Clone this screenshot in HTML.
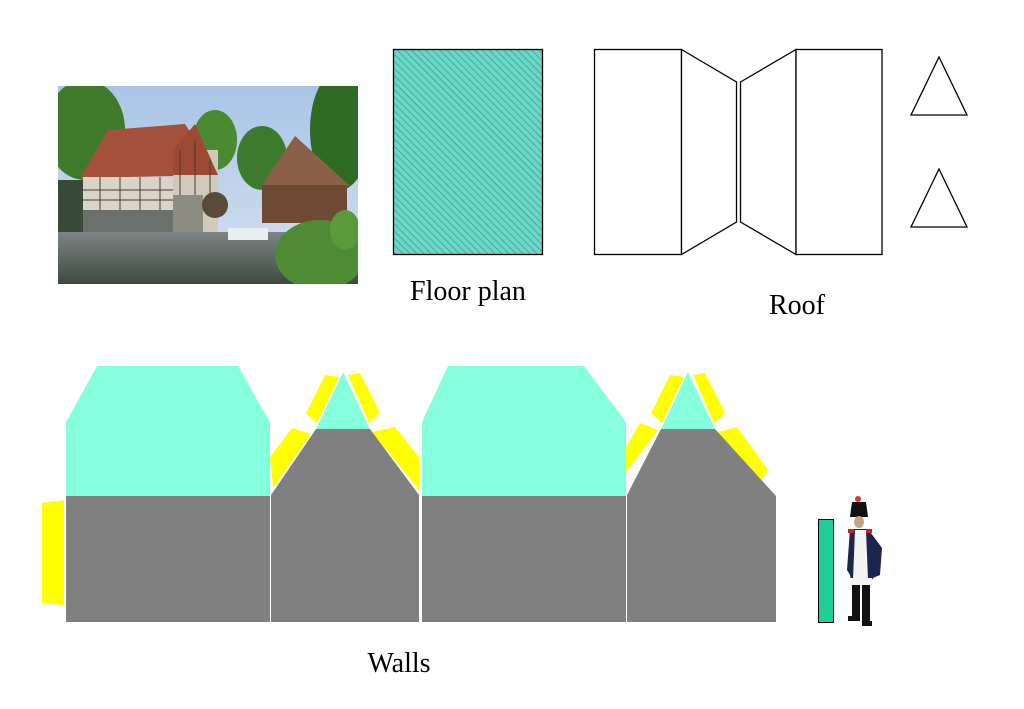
<!DOCTYPE html>
<html><head><style>
html,body{margin:0;padding:0;background:#fff;}
svg{display:block;}
text{font-family:"Liberation Serif",serif;fill:#000;}
</style></head><body>
<svg width="1024" height="709" viewBox="0 0 1024 709" xmlns="http://www.w3.org/2000/svg">
<defs>
<pattern id="hatch" width="5" height="5" patternUnits="userSpaceOnUse" patternTransform="rotate(-45)">
<rect width="5" height="5" fill="#6fd6c6"/>
<line x1="0" y1="0" x2="0" y2="5" stroke="#2aa89a" stroke-width="1.6"/>
</pattern>
<linearGradient id="sky" x1="0" y1="0" x2="0" y2="1"><stop offset="0" stop-color="#a9c4e6"/><stop offset="1" stop-color="#d6e2ee"/></linearGradient>
<linearGradient id="water" x1="0" y1="0" x2="0" y2="1"><stop offset="0" stop-color="#7d8585"/><stop offset="1" stop-color="#3e4a40"/></linearGradient>
<clipPath id="pc"><rect x="58" y="86" width="300" height="198"/></clipPath>
</defs>

<!-- Photo -->
<g clip-path="url(#pc)">
<rect x="58" y="86" width="300" height="198" fill="url(#sky)"/>
<ellipse cx="85" cy="130" rx="40" ry="50" fill="#3f7a2a"/>
<ellipse cx="215" cy="140" rx="22" ry="30" fill="#4a8a30"/>
<ellipse cx="262" cy="158" rx="25" ry="32" fill="#3d7a2e"/>
<ellipse cx="340" cy="130" rx="30" ry="60" fill="#2f6a22"/>
<rect x="58" y="180" width="30" height="60" fill="#3a4a38"/>
<polygon points="80,178 108,130 185,124 218,175" fill="#a5503a"/>
<rect x="83" y="177" width="90" height="55" fill="#d8d4c8"/>
<rect x="173" y="150" width="45" height="82" fill="#cfcabb"/>
<polygon points="173,150 195,124 218,175 173,175" fill="#9c4a35"/>
<rect x="83" y="210" width="90" height="22" fill="#6a716c"/>
<rect x="173" y="195" width="30" height="37" fill="#8d8c80"/>
<g stroke="#4a3a30" stroke-width="1">
<line x1="83" y1="190" x2="173" y2="190"/><line x1="83" y1="200" x2="173" y2="200"/>
<line x1="100" y1="177" x2="100" y2="210"/><line x1="120" y1="177" x2="120" y2="210"/><line x1="140" y1="177" x2="140" y2="210"/><line x1="160" y1="177" x2="160" y2="210"/>
<line x1="180" y1="150" x2="180" y2="195"/><line x1="195" y1="140" x2="195" y2="195"/><line x1="210" y1="160" x2="210" y2="195"/>
</g>
<circle cx="215" cy="205" r="13" fill="#5a4a3a"/>
<polygon points="262,185 295,136 350,186" fill="#8a6048"/>
<rect x="262" y="185" width="85" height="38" fill="#6e4a35"/>
<rect x="58" y="232" width="300" height="52" fill="url(#water)"/>
<rect x="228" y="228" width="40" height="12" fill="#e8eef0"/>
<ellipse cx="320" cy="255" rx="45" ry="35" fill="#4f8a35"/>
<ellipse cx="345" cy="230" rx="15" ry="20" fill="#5a9a3c"/>
</g>

<!-- Floor plan -->
<rect x="393.5" y="49.5" width="149" height="205" fill="url(#hatch)" stroke="#000" stroke-width="1.3"/>
<text x="468" y="300" font-size="28" text-anchor="middle">Floor plan</text>

<!-- Roof -->
<g fill="#fff" stroke="#000" stroke-width="1.3">
<rect x="594.5" y="49.5" width="87" height="205"/>
<polygon points="681.5,49.5 736.5,82 736.5,222 681.5,254.5"/>
<polygon points="740.5,82 796,49.5 796,254.5 740.5,222"/>
<rect x="796" y="49.5" width="86" height="205"/>
<polygon points="939,57 967,115 911,115"/>
<polygon points="939,169 967,227 911,227"/>
</g>
<text x="797" y="314" font-size="28" text-anchor="middle">Roof</text>

<!-- Walls -->
<g>
<!-- yellow flaps -->
<g fill="#ffff00">
<polygon points="42,503 64,500 64,605 42,603"/>
<polygon points="325,375 339,377 317,423 306,413"/>
<polygon points="348,375 360,373 380,413 369,423"/>
<polygon points="292,428 311,434 273,488 270,457"/>
<polygon points="372,432 395,427 419,457 419,490"/>
<polygon points="670,375 684,377 662,423 651,413"/>
<polygon points="693,375 705,373 725,413 714,423"/>
<polygon points="640,423 658,430 620,480 617,463"/>
<polygon points="718,432 737,427 768,470 757,487"/>
</g>
<!-- panel 1 -->
<polygon points="97,366 238,366 270,422 270,496 66,496 66,422" fill="#86ffdd"/>
<rect x="66" y="496" width="204" height="126" fill="#808080"/>
<!-- panel 2 -->
<polygon points="343,372 370,429 316,429" fill="#86ffdd"/>
<polygon points="316,429 370,429 419,495 419,622 271,622 271,495" fill="#808080"/>
<!-- panel 3 -->
<polygon points="448,366 584,366 626,422 626,496 422,496 422,422" fill="#86ffdd"/>
<rect x="422" y="496" width="204" height="126" fill="#808080"/>
<!-- panel 4 -->
<polygon points="688,372 715,429 661,429" fill="#86ffdd"/>
<polygon points="661,429 715,429 776,496 776,622 627,622 627,495" fill="#808080"/>
</g>
<text x="399" y="672" font-size="28" text-anchor="middle">Walls</text>

<!-- green bar -->
<rect x="818.5" y="519.5" width="15" height="103" fill="#1fcf9a" stroke="#000" stroke-width="1"/>

<!-- soldier -->
<g>
<circle cx="858" cy="499" r="3" fill="#e03030"/>
<polygon points="852,502 866,502 868,517 850,517" fill="#111"/>
<ellipse cx="859" cy="522" rx="5" ry="6" fill="#c9a080"/>
<path d="M850,529 L868,529 L882,548 L880,575 L873,578 L870,585 L852,585 L850,575 L847,570 Z" fill="#1c2550"/>
<path d="M855,530 L866,530 L868,580 L853,580 Z" fill="#f4f4f4"/>
<rect x="850" y="578" width="22" height="8" fill="#f4f4f4"/>
<rect x="852" y="585" width="8" height="32" fill="#111"/>
<rect x="862" y="585" width="8" height="36" fill="#111"/>
<rect x="848" y="616" width="12" height="5" fill="#111"/>
<rect x="862" y="621" width="10" height="5" fill="#111"/>
<rect x="848" y="529" width="6" height="4" fill="#d02020"/>
<rect x="866" y="529" width="6" height="4" fill="#d02020"/>
</g>
</svg>
</body></html>
